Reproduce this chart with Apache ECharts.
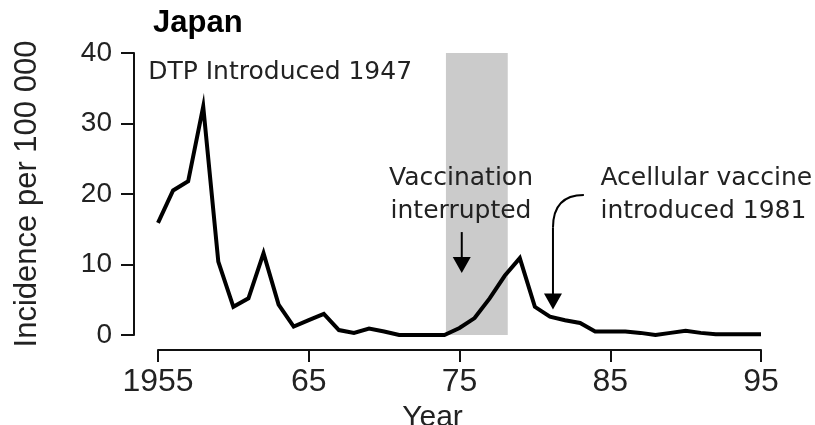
<!DOCTYPE html>
<html>
<head>
<meta charset="utf-8">
<title>Japan</title>
<script src="https://cdn.jsdelivr.net/npm/echarts/dist/echarts.min.js"></script>
<style>
    html, body { margin: 0; padding: 0; background: #fff; }
    #box1 { width: 815px; height: 425px; }
</style>
</head>
<body>
<div id="box1"></div>
<script>
// data
var years = [1955, 1956, 1957, 1958, 1959, 1960, 1961, 1962, 1963, 1964,
    1965, 1966, 1967, 1968, 1969, 1970, 1971, 1972, 1973, 1974,
    1975, 1976, 1977, 1978, 1979, 1980, 1981, 1982, 1983, 1984,
    1985, 1986, 1987, 1988, 1989, 1990, 1991, 1992, 1993, 1994, 1995];
var incidence = [15.9, 20.5, 21.8, 32.4, 10.4, 4.0, 5.2, 11.6, 4.3, 1.2,
    2.1, 3.0, 0.7, 0.3, 0.9, 0.5, 0.0, 0.0, 0.0, 0.0,
    1.0, 2.4, 5.2, 8.4, 10.9, 4.0, 2.6, 2.1, 1.7, 0.5,
    0.5, 0.5, 0.3, 0.0, 0.3, 0.6, 0.3, 0.1, 0.1, 0.1, 0.1];
var xTicks = [1955, 1965, 1975, 1985, 1995];
var yTicks = [0, 10, 20, 30, 40];
var interrupted = [1974.1, 1978.2]; // shaded band

var myChart = echarts.init(document.getElementById('box1'));

var seriesData = [];
for (var i = 0; i < years.length; i++) {
    seriesData.push([years[i], incidence[i]]);
}

var option = {
    animation: false,
    backgroundColor: '#fff',
    title: {
        text: 'Japan',
        left: 148,
        top: 3,
        textStyle: {
            fontFamily: 'Liberation Sans',
            fontWeight: 'bold',
            fontSize: 31,
            color: '#000'
        }
    },
    grid: {
        left: 158,
        right: 54,
        top: 53,
        bottom: 90,
        containLabel: false,
        outerBoundsMode: 'none'
    },
    xAxis: {
        type: 'value',
        min: xTicks[0],
        max: xTicks[xTicks.length - 1],
        interval: 10,
        offset: 15,
        name: 'Year',
        nameLocation: 'middle',
        nameGap: 48,
        nameTextStyle: {
            fontFamily: 'Liberation Sans',
            fontSize: 30,
            color: '#222',
            padding: [0, 54, 0, 0]
        },
        splitLine: {show: false},
        axisLine: {onZero: false, lineStyle: {color: '#111', width: 2}},
        axisTick: {length: 12, lineStyle: {color: '#111', width: 2}},
        axisLabel: {
            margin: 16,
            fontFamily: 'Liberation Sans',
            fontSize: 32,
            color: '#222',
            formatter: function (v) {
                return v === xTicks[0] ? String(v) : String(v).slice(2);
            }
        }
    },
    yAxis: {
        type: 'value',
        min: yTicks[0],
        max: yTicks[yTicks.length - 1],
        interval: 10,
        offset: 24,
        name: 'Incidence per 100 000',
        nameLocation: 'middle',
        nameGap: 91,
        nameRotate: 90,
        nameTextStyle: {
            fontFamily: 'Liberation Sans',
            fontSize: 31,
            color: '#222'
        },
        splitLine: {show: false},
        axisLine: {show: true, onZero: false, lineStyle: {color: '#111', width: 2}},
        axisTick: {show: true, length: 13, lineStyle: {color: '#111', width: 2}},
        axisLabel: {
            margin: 22,
            fontFamily: 'Liberation Sans',
            fontSize: 28,
            color: '#222'
        }
    },
    series: [{
        type: 'line',
        data: seriesData,
        symbol: 'none',
        lineStyle: {color: '#000', width: 4, join: 'miter', miterLimit: 10},
        markArea: {
            silent: true,
            itemStyle: {color: '#cbcbcb'},
            data: [[
                {coord: [interrupted[0], yTicks[yTicks.length - 1]]},
                {coord: [interrupted[1], yTicks[0]]}
            ]]
        }
    }]
};

myChart.setOption(option);

// annotations, placed in data coordinates
function px(x, y) {
    return myChart.convertToPixel({gridIndex: 0}, [x, y]);
}

var noteFont = '25px "DejaVu Sans"';
var dtp = px(1954.35, 37.3);
var vac = px(1975.1, 19.8);
var ace = px(1984.35, 19.8);

// straight arrow
var a1 = px(1975.15, 14.6);
var a2 = px(1975.15, 8.8);
// curved arrow
var c0 = px(1983.25, 19.85);
var c1 = px(1981.2, 15.2);
var c2 = px(1981.2, 3.6);

var graphic = [
    {type: 'text', z: 10, style: {text: 'DTP Introduced 1947', x: dtp[0], y: dtp[1], font: noteFont, fill: '#222', align: 'left', verticalAlign: 'middle'}},
    {type: 'text', z: 10, style: {text: 'Vaccination\ninterrupted', x: vac[0], y: vac[1], font: noteFont, lineHeight: 33, fill: '#222', align: 'center', verticalAlign: 'middle'}},
    {type: 'text', z: 10, style: {text: 'Acellular vaccine\nintroduced 1981', x: ace[0], y: ace[1], font: noteFont, lineHeight: 33, fill: '#222', align: 'left', verticalAlign: 'middle'}},
    {type: 'line', z: 10, shape: {x1: a1[0], y1: a1[1], x2: a2[0], y2: a2[1] - 14}, style: {stroke: '#000', lineWidth: 2}},
    {type: 'polygon', z: 10, shape: {points: [[a2[0] - 9, a2[1] - 16], [a2[0] + 9, a2[1] - 16], [a2[0], a2[1]]]}, style: {fill: '#000'}},
    {type: 'bezierCurve', z: 10, shape: {x1: c0[0], y1: c0[1], cpx1: c0[0] - 20, cpy1: c0[1], cpx2: c1[0], cpy2: c0[1] + 10, x2: c1[0], y2: c1[1]}, style: {stroke: '#000', lineWidth: 2, fill: 'none'}},
    {type: 'line', z: 10, shape: {x1: c1[0], y1: c1[1], x2: c2[0], y2: c2[1] - 14}, style: {stroke: '#000', lineWidth: 2}},
    {type: 'polygon', z: 10, shape: {points: [[c2[0] - 9, c2[1] - 16], [c2[0] + 9, c2[1] - 16], [c2[0], c2[1]]]}, style: {fill: '#000'}}
];

myChart.setOption({graphic: graphic});
</script>
</body>
</html>
